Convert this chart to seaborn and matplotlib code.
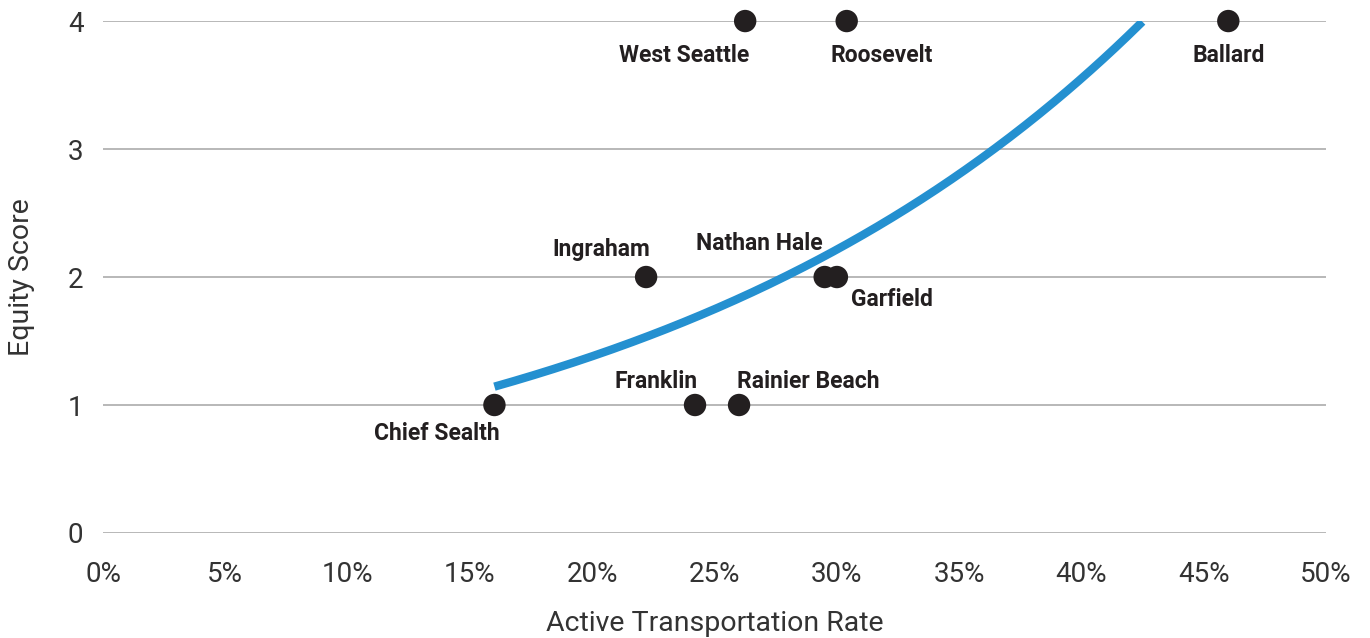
import numpy as np
import pandas as pd
import matplotlib
matplotlib.use("Agg")
import matplotlib.pyplot as plt
import seaborn as sns
from matplotlib.ticker import PercentFormatter

schools = ["West Seattle", "Roosevelt", "Ballard", "Ingraham", "Nathan Hale",
           "Garfield", "Chief Sealth", "Franklin", "Rainier Beach"]
active_rate = [26.25, 30.4, 46.0, 22.2, 29.5, 30.0, 16.0, 24.2, 26.0]
equity_score = [4, 4, 4, 2, 2, 2, 1, 1, 1]

# label offsets in pixels (dx, dy) relative to the dot
label_offsets = {
    "West Seattle": (-61, -34), "Roosevelt": (35, -34), "Ballard": (0, -34),
    "Ingraham": (-45, 28), "Nathan Hale": (-65, 34), "Garfield": (55, -22),
    "Chief Sealth": (-58, -28), "Franklin": (-39, 24), "Rainier Beach": (69, 24),
}

df = pd.DataFrame({"school": schools, "rate": active_rate, "score": equity_score})

# exponential trendline fitted to the points (like Excel)
b, c = np.polyfit(df["rate"], np.log(df["score"]), 1)
xs = np.linspace(df["rate"].min(), df["rate"].max(), 300)
ys = np.exp(c + b * xs)
trend = pd.DataFrame({"rate": xs[ys <= 4.0], "score": ys[ys <= 4.0]})

sns.set_theme(style="white")
plt.rcParams["font.family"] = ["Roboto", "DejaVu Sans"]

fig, ax = plt.subplots(figsize=(13.7, 6.38), dpi=100)
fig.subplots_adjust(left=0.0752, right=0.968, top=0.967, bottom=0.1646)

for yv in range(0, 5):
    ax.axhline(yv, color="#ababab", lw=1.2, zorder=0)

sns.lineplot(data=trend, x="rate", y="score", ax=ax, color="#2490d0", lw=6,
             solid_capstyle="butt", zorder=2)
sns.scatterplot(data=df, x="rate", y="score", ax=ax, color="#231f20", s=260,
                edgecolor="none", zorder=3)

for _, row in df.iterrows():
    dx, dy = label_offsets[row["school"]]
    ax.annotate(row["school"], (row["rate"], row["score"]), xytext=(dx, dy),
                textcoords="offset pixels", ha="center", va="center",
                fontsize=16.5, fontweight="bold", color="#231f20")

ax.set_xlim(0, 50)
ax.set_ylim(0, 4)
ax.set_xticks(range(0, 51, 5))
ax.set_yticks(range(0, 5))
ax.xaxis.set_major_formatter(PercentFormatter(decimals=0))
ax.tick_params(axis="both", length=0, labelsize=20, labelcolor="#333333")
ax.tick_params(axis="x", pad=20)
ax.tick_params(axis="y", pad=14)
for sp in ax.spines.values():
    sp.set_visible(False)
ax.set_xlabel("Active Transportation Rate", fontsize=20.5, color="#333333", labelpad=16)
ax.set_ylabel("Equity Score", fontsize=20.5, color="#333333", labelpad=24)
for coll in ax.collections:
    coll.set_clip_on(False)

fig.savefig("out.png", dpi=100)
